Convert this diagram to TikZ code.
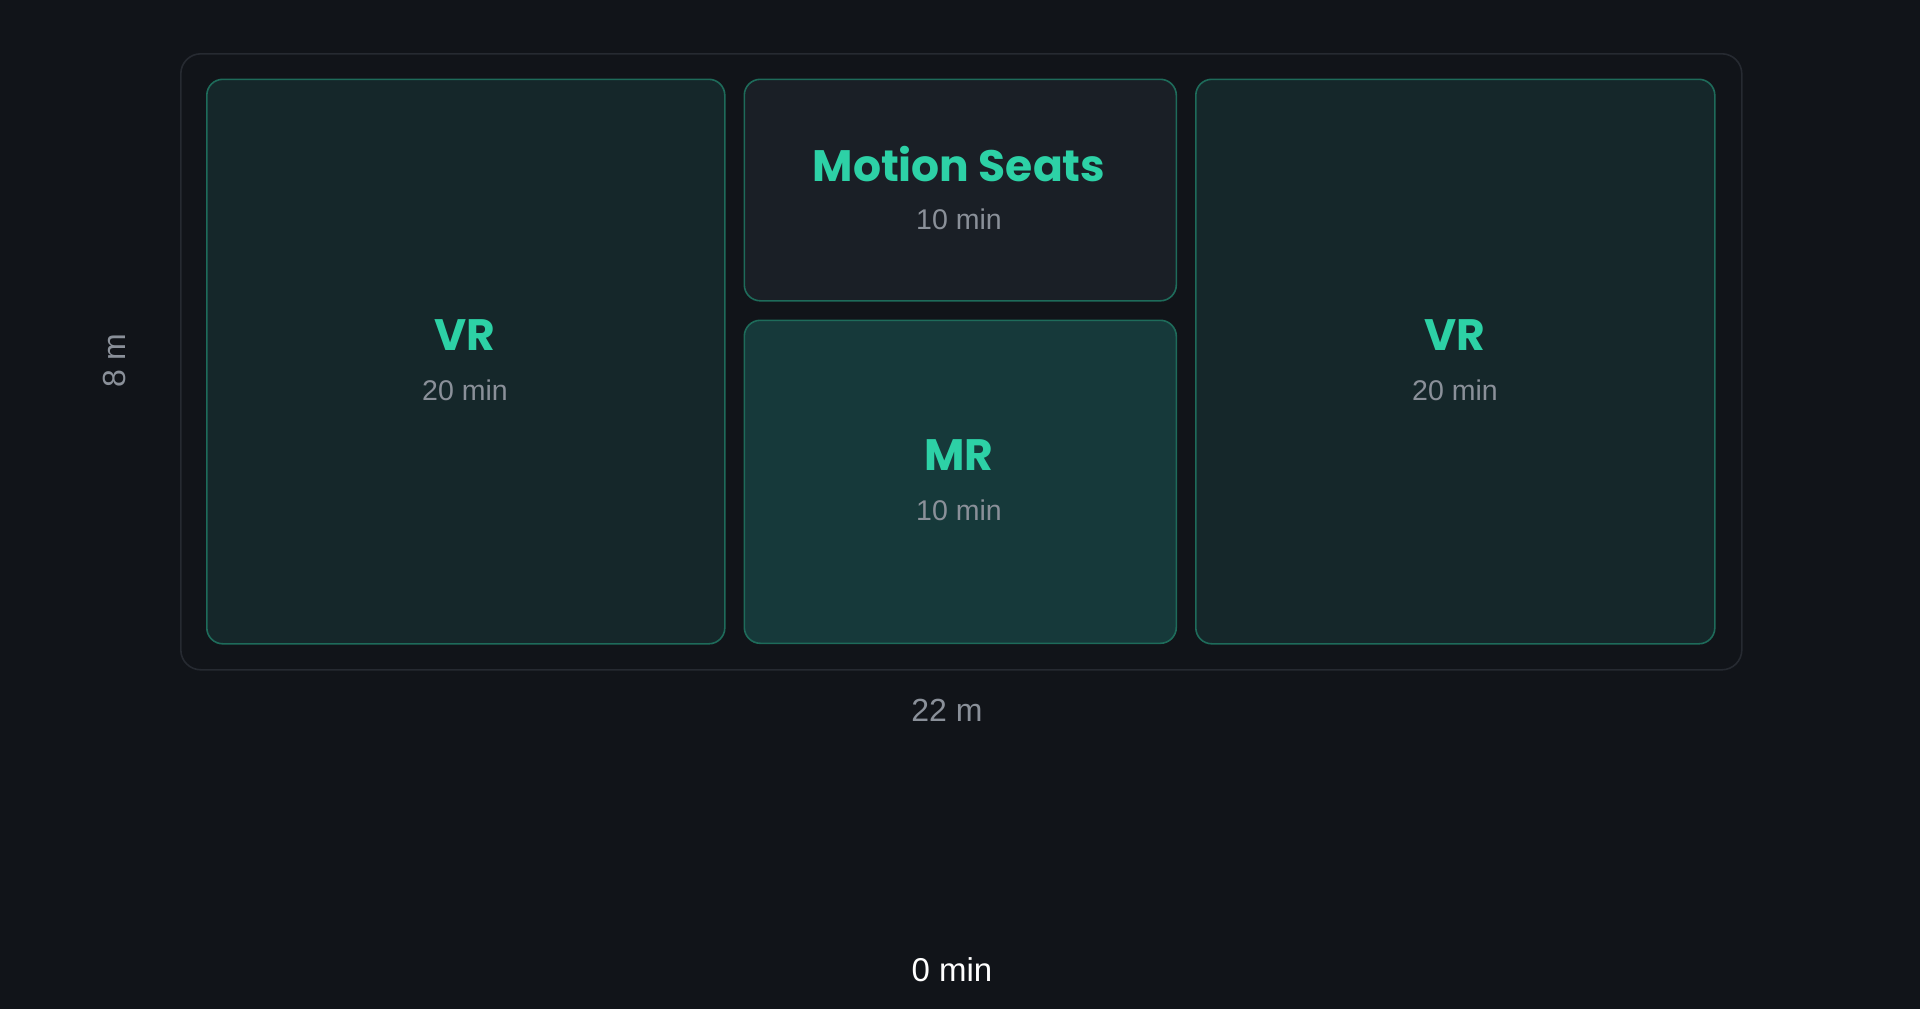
\documentclass[tikz,border=0pt]{standalone}
\usepackage{fontspec}
\setmainfont{Liberation Sans}
\newfontfamily\titlefont{Poppins}
\definecolor{bg}{HTML}{111419}
\definecolor{outerline}{HTML}{262A31}
\definecolor{vrfill}{HTML}{15272A}
\definecolor{msfill}{HTML}{1A1F26}
\definecolor{mrfill}{HTML}{16393A}
\definecolor{teal}{HTML}{1E6B5A}
\definecolor{titlec}{HTML}{2DD1A6}
\definecolor{subc}{HTML}{8A9099}
\begin{document}
\begin{tikzpicture}[x=1pt,y=-1pt,
  zone/.style={draw=teal,line width=1.6pt,rounded corners=16pt,inner sep=0pt,anchor=north west},
  ttl/.style={text=titlec,inner sep=0pt,font=\titlefont\bfseries\fontsize{44}{48}\selectfont},
  sub/.style={text=subc,inner sep=0pt,font=\fontsize{28.5}{32}\selectfont},
  dim/.style={text=subc,inner sep=0pt,font=\fontsize{32}{36}\selectfont}]
\fill[bg] (0,0) rectangle (1920,1009);
\useasboundingbox (0,0) rectangle (1920,1009);
\node[draw=outerline,line width=1.6pt,rounded corners=20pt,inner sep=0pt,anchor=north west,
  minimum width=1561pt,minimum height=616pt] (floor) at (180,53) {};
\node[zone,fill=vrfill,minimum width=518pt,minimum height=564.5pt] (vr1) at (206,78.5) {};
\node[zone,fill=msfill,minimum width=432pt,minimum height=221.5pt] (ms) at (743.5,78.5) {};
\node[zone,fill=mrfill,minimum width=432pt,minimum height=323pt] (mr) at (743.5,319.5) {};
\node[zone,fill=vrfill,minimum width=519pt,minimum height=564.5pt] (vr2) at (1195,78.5) {};
\node[ttl] (vr1t) at (465,335.5) {VR};
\node[sub] (vr1s) at (465,390.5) {20 min};
\node[ttl] (mst) at (959,164) {Motion Seats};
\node[sub] (mss) at (959,219) {10 min};
\node[ttl] (mrt) at (959,455.5) {MR};
\node[sub] (mrs) at (959,510.5) {10 min};
\node[ttl] (vr2t) at (1455,335.5) {VR};
\node[sub] (vr2s) at (1455,390.5) {20 min};
\node[dim,rotate=90] (h) at (114,360.5) {8 m};
\node[dim] (w) at (947,710) {22 m};
\node[inner sep=0pt,text=white,font=\fontsize{33}{36}\selectfont] (t) at (952,970) {0 min};
\end{tikzpicture}
\end{document}
